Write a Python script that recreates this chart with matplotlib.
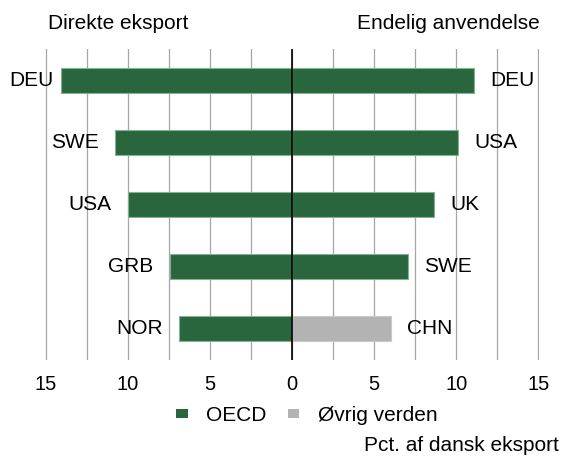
import numpy as np
import matplotlib.pyplot as plt
from matplotlib.patches import Patch

plt.rcParams['font.family'] = ['Liberation Sans', 'DejaVu Sans']
plt.rcParams['font.size'] = 15

# --- Data ---
venstre_lande = ['DEU', 'SWE', 'USA', 'GRB', 'NOR']
venstre_vaerdi = [14.05, 10.75, 10.0, 7.43, 6.88]
hoejre_lande = ['DEU', 'USA', 'UK', 'SWE', 'CHN']
hoejre_vaerdi = [11.08, 10.12, 8.67, 7.04, 6.03]
hoejre_gruppe = ['OECD', 'OECD', 'OECD', 'OECD', 'Øvrig verden']
grupper = ['OECD', 'Øvrig verden']
xticks = [-15, -10, -5, 0, 5, 10, 15]
xlabels = ['15', '10', '5', '0', '5', '10', '15']

farver = {'OECD': '#29663e', 'Øvrig verden': '#b3b3b3'}
kanter = {'OECD': '#86b093', 'Øvrig verden': '#c8c8c8'}

fig = plt.figure(figsize=(5.63, 4.57), dpi=100)
ax = fig.add_axes([0.0799, 0.2123, 0.8775, 0.6805])

y = np.arange(len(venstre_lande))
ax.barh(y, -np.array(venstre_vaerdi), height=0.4, color=farver['OECD'],
        edgecolor=kanter['OECD'], linewidth=0.8, zorder=2)
ax.barh(y, hoejre_vaerdi, height=0.4, color=[farver[g] for g in hoejre_gruppe],
        edgecolor=[kanter[g] for g in hoejre_gruppe], linewidth=0.8, zorder=2)

# etiketter ved søjlerne
for i in range(len(y)):
    ax.text(max(-venstre_vaerdi[i] - 1, -14.5), y[i], venstre_lande[i],
            ha='right', va='center', zorder=4)
    ax.text(hoejre_vaerdi[i] + 1, y[i], hoejre_lande[i],
            ha='left', va='center', zorder=4)

ax.set_xlim(-15.04, 15.04)
ax.set_ylim(4.5, -0.5)
ax.set_xticks(xticks)
ax.set_xticklabels(xlabels, fontsize=14.5)
ax.set_xticks(np.arange(-12.5, 13, 5), minor=True)
ax.set_yticks([])
ax.grid(axis='x', which='both', color='#a6a6a6', linewidth=0.9, zorder=0)
ax.axvline(0, color='black', linewidth=1.2, zorder=3)
ax.tick_params(axis='x', which='both', length=0, pad=10.5)
for s in ax.spines.values():
    s.set_visible(False)

fig.text(0.0853, 0.9365, 'Direkte eksport', ha='left', va='baseline')
fig.text(0.959, 0.9365, 'Endelig anvendelse', ha='right', va='baseline')
fig.text(0.993, 0.0131, 'Pct. af dansk eksport', ha='right', va='baseline')

handles = [Patch(facecolor=farver[g], edgecolor='none', label=g) for g in grupper]
fig.legend(handles=handles, loc='center', bbox_to_anchor=(0.545, 0.0908), ncol=2,
           frameon=False, handlelength=0.55, handleheight=0.35,
           handletextpad=0.9, columnspacing=1.0, borderpad=0)

fig.savefig('out.png', dpi=100)
